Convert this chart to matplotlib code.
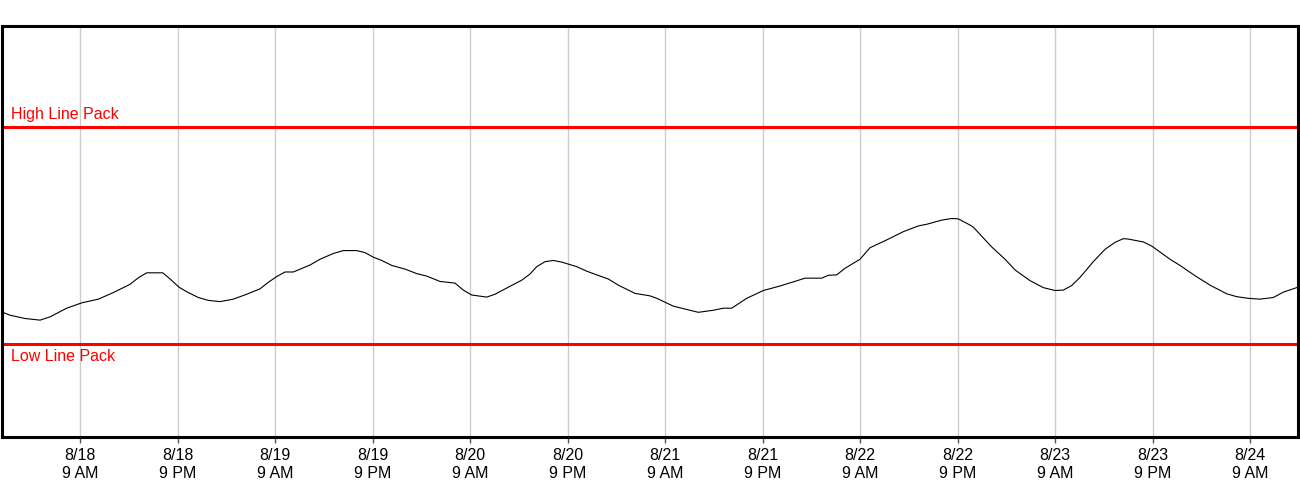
import numpy as np
import matplotlib
matplotlib.use("Agg")
import matplotlib.pyplot as plt

# ====== DATA ======
# hours since 8/18 00:00
hours = [-0.64, 0.38, 2.23, 4.08, 5.31, 7.36, 9.21, 11.25, 13.1, 15.15, 16.18,
         17.21, 19.18, 20.08, 21.18, 22.13, 23.56, 24.79, 26.23, 27.87, 29.52,
         31.15, 32.18, 33.21, 34.23, 35.25, 37.31, 38.54, 40.18, 41.41, 43.06,
         44.08, 45.1, 46.13, 47.36, 49.0, 50.44, 51.67, 53.31, 55.15, 56.17,
         57.21, 59.06, 60.08, 61.71, 63.36, 64.38, 65.21, 66.23, 67.25, 68.29,
         70.13, 71.36, 72.59, 74.02, 75.25, 77.31, 79.15, 79.98, 82.02, 85.1,
         86.94, 88.18, 89.21, 91.05, 93.1, 95.15, 96.79, 98.23, 100.28, 101.1,
         102.13, 103.15, 105.0, 106.23, 108.29, 110.33, 112.18, 113.21, 115.05,
         116.29, 117.1, 118.54, 118.94, 121.2, 122.85, 124.08, 125.92, 127.56,
         129.0, 130.02, 131.05, 132.08, 133.71, 135.15, 136.38, 137.41, 138.02,
         139.87, 140.9, 143.15, 144.38, 146.23, 148.08, 150.13, 151.36, 152.79,
         154.23, 155.87, 157.1, 158.75]
line_pack = [30.4, 29.6, 28.8, 28.4, 29.2, 31.3, 32.6, 33.5, 35.1, 37.1, 38.7,
             39.9, 39.9, 38.4, 36.4, 35.3, 33.9, 33.2, 32.9, 33.5, 34.7,
             36.0, 37.6, 39.0, 40.1, 40.1, 41.8, 43.2, 44.6, 45.3, 45.3,
             44.8, 43.7, 42.9, 41.7, 40.8, 39.7, 39.1, 37.8, 37.4, 35.7,
             34.5, 34.0, 34.7, 36.4, 38.1, 39.6, 41.4, 42.6, 42.9, 42.5,
             41.4, 40.3, 39.4, 38.4, 36.9, 34.9, 34.3, 33.7, 31.8, 30.3,
             30.8, 31.3, 31.3, 33.7, 35.6, 36.7, 37.7, 38.6, 38.6, 39.3,
             39.4, 41.0, 43.2, 46.0, 47.9, 49.9, 51.3, 51.7, 52.7,
             53.1, 53.0, 51.5, 51.0, 46.2, 43.2, 40.6, 38.0, 36.3,
             35.6, 35.7, 36.8, 38.8, 42.6, 45.6, 47.3, 48.2, 48.1,
             47.4, 46.4, 43.2, 41.7, 39.2, 36.9, 34.8, 34.1, 33.7,
             33.5, 33.9, 35.2, 36.3]

high_pack = 75.3
low_pack = 22.6

tick_hours = [9, 21, 33, 45, 57, 69, 81, 93, 105, 117, 129, 141, 153]
tick_labels = ["8/18\n9 AM", "8/18\n9 PM", "8/19\n9 AM", "8/19\n9 PM",
               "8/20\n9 AM", "8/20\n9 PM", "8/21\n9 AM", "8/21\n9 PM",
               "8/22\n9 AM", "8/22\n9 PM", "8/23\n9 AM", "8/23\n9 PM",
               "8/24\n9 AM"]

# ====== FIGURE ======
plt.rcParams['font.family'] = ['Liberation Sans', 'DejaVu Sans']
fig = plt.figure(figsize=(13, 5), dpi=100)
ax = fig.add_axes([0.0012, 0.126, 0.9976, 0.823])

ax.plot(hours, line_pack, color='black', linewidth=0.8)

ax.axhline(high_pack, color='#ff0000', linewidth=2.2)
ax.axhline(low_pack, color='#ff0000', linewidth=2.2)
ax.text(0.55, high_pack + 1.3, "High Line Pack", color='#ff0000', fontsize=11.5,
        va='bottom', ha='left')
ax.text(0.55, low_pack - 1.3, "Low Line Pack", color='#ff0000', fontsize=11.5,
        va='top', ha='left')

# ====== STYLING ======
ax.set_xlim(-0.66, 158.96)
ax.set_ylim(0, 100)
ax.set_xticks(tick_hours)
ax.set_xticklabels(tick_labels, fontsize=11.5, linespacing=1.2)
ax.set_yticks([])
ax.tick_params(axis='x', length=4, width=1, color='#555555', pad=4)
ax.grid(True, axis='x', color='#cccccc', linewidth=1)
for side in ax.spines.values():
    side.set_linewidth(2.2)
    side.set_color('black')

fig.savefig("out.png", dpi=100)
